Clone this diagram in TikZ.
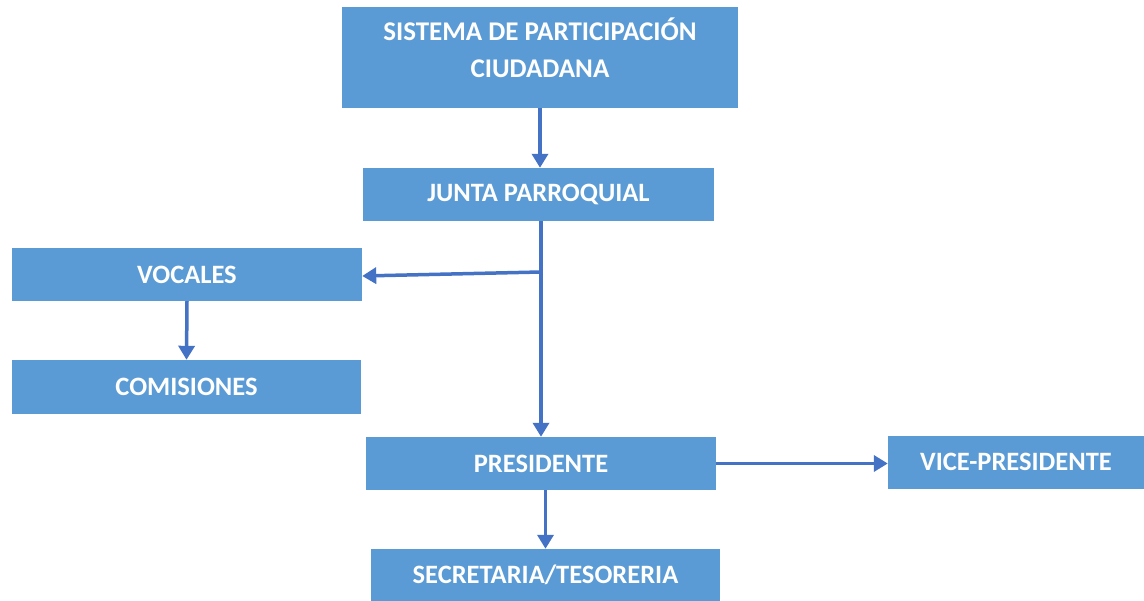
\documentclass[tikz,border=0pt]{standalone}
\usepackage{fontspec}
\setmainfont{Carlito}
\usetikzlibrary{arrows.meta,calc}
\definecolor{boxblue}{HTML}{5B9BD5}
\definecolor{arrowblue}{HTML}{4472C4}
\tikzset{
  orgbox/.style={fill=boxblue, draw=none, text=white, inner sep=0pt,
    font=\fontsize{26.5}{37}\selectfont\bfseries, align=center},
  conn/.style={draw=arrowblue, line width=3.5pt},
  arr/.style={conn, -{Triangle[width=16pt,length=14pt]}}
}
\begin{document}
\begin{tikzpicture}[x=1pt,y=-1pt]
\useasboundingbox (0,0) rectangle (1144,601);
\node[orgbox, minimum width=396pt, minimum height=101pt] (sis) at (540,57.5) {};
\node[text=white, font=\fontsize{27}{37}\selectfont\bfseries, align=center, inner sep=0pt] (sist) at (540,48) {SISTEMA DE PARTICIPACIÓN\\CIUDADANA};
\node[orgbox, minimum width=351pt, minimum height=53pt] (jun) at (538.5,194.5) {JUNTA PARROQUIAL};
\node[orgbox, minimum width=350pt, minimum height=53pt] (voc) at (187,274.5) {VOCALES};
\node[orgbox, minimum width=349pt, minimum height=54pt] (com) at (186.5,387) {COMISIONES};
\node[orgbox, minimum width=350pt, minimum height=53pt] (pre) at (541,463.5) {PRESIDENTE};
\node[orgbox, minimum width=256pt, minimum height=53pt] (vic) at (1016,462.5) {\raisebox{2pt}{VICE-PRESIDENTE}};
\node[orgbox, minimum width=349pt, minimum height=52pt] (sec) at (545.5,575) {SECRETARIA/TESORERIA};
\coordinate (br) at (541,272);
\draw[arr] (sis.south) -- (sis.south |- jun.north);
\draw[arr] (jun.south -| br) -- (pre.north -| br);
\draw[arr] (br) -- ($(voc.east)+(0,1.5)$);
\draw[arr] (voc.south) -- (com.north);
\draw[arr] (pre.east) -- (pre.east -| vic.west);
\draw[arr] (pre.south -| sec.north) -- (sec.north);
\end{tikzpicture}
\end{document}
